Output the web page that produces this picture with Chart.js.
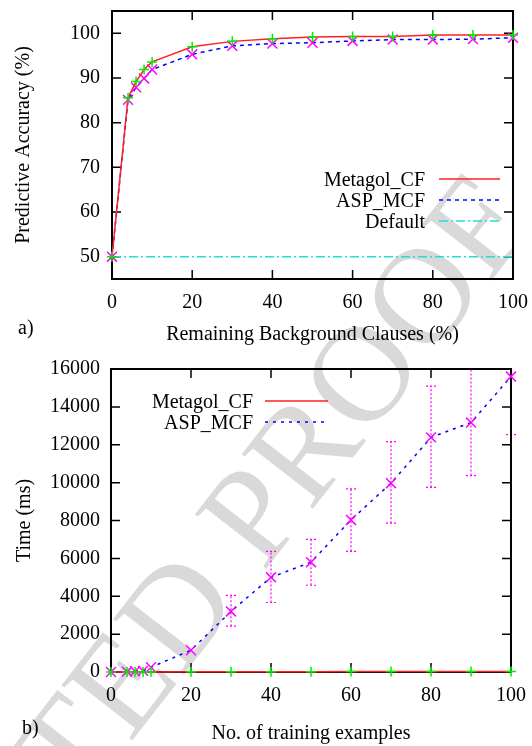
<!DOCTYPE html>
<html>
<head>
<meta charset="utf-8">
<script src="https://cdn.jsdelivr.net/npm/chart.js@4.4.0/dist/chart.umd.min.js"></script>
<style>
  html, body { margin: 0; padding: 0; background: #fff; }
  #page { position: relative; width: 532px; height: 746px; overflow: hidden; font-family: "Liberation Serif", serif; }
  #mark { position: absolute; left: -471px; top: 1327px; font-size: 137px; line-height: 1; color: #d9d9d9;
          white-space: nowrap; transform: rotate(-52deg); transform-origin: 0 0; }
  canvas { position: absolute; left: 0; }
  #accuracy { top: 0; }
  #timing { top: 345px; }
  .tag { position: absolute; font-size: 20px; line-height: 20px; color: #000; }
</style>
</head>
<body>
<div id="page">
  <div id="mark">UNCORRECTED PROOF</div>
  <canvas id="accuracy" width="532" height="360"></canvas>
  <canvas id="timing" width="532" height="401"></canvas>
  <div class="tag" style="left:18px; top:317px;">a)</div>
  <div class="tag" style="left:22px; top:717px;">b)</div>
</div>
<script>
// a) predictive accuracy vs remaining background clauses
const clauses = [0, 4, 6, 8, 10, 20, 30, 40, 50, 60, 70, 80, 90, 100];
const accMetagol = [50, 85.6, 89.2, 91.9, 93.6, 97.0, 98.2, 98.8, 99.2, 99.3, 99.3, 99.6, 99.6, 99.6];
const accAsp = [50, 85.1, 87.9, 89.9, 91.9, 95.3, 97.2, 97.7, 97.9, 98.3, 98.6, 98.6, 98.7, 99.0];
const defaultX = [0, 100];
const accDefault = [50, 50];
const xTicksA = [0, 20, 40, 60, 80, 100];
const yTicksA = [50, 60, 70, 80, 90, 100];

// b) running time vs number of training examples
const examples = [0, 4, 6, 8, 10, 20, 30, 40, 50, 60, 70, 80, 90, 100];
const timeMetagol = [0, 5, 5, 5, 5, 10, 10, 15, 15, 20, 20, 25, 25, 30];
const timeAsp = [0, 20, 40, 60, 250, 1150, 3200, 5000, 5800, 8030, 9970, 12390, 13170, 15600];
const timeAspLow = [0, 20, 40, 60, 250, 1150, 2420, 3670, 4580, 6370, 7860, 9750, 10370, 12530];
const timeAspHigh = [0, 20, 40, 60, 250, 1150, 4050, 6370, 7000, 9670, 12160, 15100, 16200, 18700];
const xTicksB = [0, 20, 40, 60, 80, 100];
const yTicksB = [0, 2000, 4000, 6000, 8000, 10000, 12000, 14000, 16000];

Chart.defaults.color = "#000";
Chart.defaults.font.family = '"Liberation Serif", serif';
Chart.defaults.font.size = 20;

const font = { family: '"Liberation Serif", serif', size: 20 };
const pts = (xs, ys) => xs.map((x, i) => ({ x: x, y: ys[i] }));

// box round the plot with gnuplot style inward ticks on all four sides
const frame = {
  id: "frame",
  beforeDatasetsDraw(chart) {
    const { ctx, chartArea: a, scales: { x, y } } = chart;
    ctx.save();
    ctx.strokeStyle = "#000";
    ctx.lineWidth = 1.5;
    ctx.beginPath();
    x.ticks.forEach((t) => {
      const px = x.getPixelForValue(t.value);
      ctx.moveTo(px, a.bottom); ctx.lineTo(px, a.bottom - 9);
      ctx.moveTo(px, a.top); ctx.lineTo(px, a.top + 9);
    });
    y.ticks.forEach((t) => {
      const py = y.getPixelForValue(t.value);
      ctx.moveTo(a.left, py); ctx.lineTo(a.left + 9, py);
      ctx.moveTo(a.right, py); ctx.lineTo(a.right - 9, py);
    });
    ctx.stroke();
    ctx.lineWidth = 2;
    ctx.strokeRect(a.left, a.top, a.right - a.left, a.bottom - a.top);
    ctx.restore();
  },
};

// key: text right aligned, line sample on its right
function keyPlugin(textRight, x1, x2, y0, gap) {
  return {
    id: "key",
    afterDraw(chart) {
      const ctx = chart.ctx;
      ctx.save();
      ctx.font = '20px "Liberation Serif", serif';
      ctx.textAlign = "right";
      ctx.textBaseline = "middle";
      chart.data.datasets.forEach((ds, i) => {
        const y = y0 + i * gap;
        ctx.fillStyle = "#000";
        ctx.fillText(ds.label, textRight, y);
        ctx.strokeStyle = ds.borderColor;
        ctx.lineWidth = ds.borderWidth;
        ctx.setLineDash(ds.borderDash || []);
        ctx.beginPath();
        ctx.moveTo(x1, y - 2);
        ctx.lineTo(x2, y - 2);
        ctx.stroke();
      });
      ctx.restore();
    },
  };
}

function axes(xTicks, yTicks, yMin, yMax, xTitle, yTitle, xHeight, yWidth, xTitlePad, yTitlePad, xPad, yPad) {
  return {
    x: {
      type: "linear", min: 0, max: 100,
      afterBuildTicks: (s) => { s.ticks = xTicks.map((v) => ({ value: v })); },
      afterFit: (s) => { s.height = xHeight; s.paddingLeft = 0; s.paddingRight = 0; },
      grid: { display: false, drawTicks: false },
      border: { display: false },
      ticks: { font: font, padding: xPad, maxRotation: 0, callback: (v) => String(v) },
      title: { display: true, text: xTitle, font: font, padding: { top: 0, bottom: xTitlePad } },
    },
    y: {
      type: "linear", min: yMin, max: yMax,
      afterBuildTicks: (s) => { s.ticks = yTicks.map((v) => ({ value: v })); },
      afterFit: (s) => { s.width = yWidth; s.paddingTop = 0; s.paddingBottom = 0; },
      grid: { display: false, drawTicks: false },
      border: { display: false },
      ticks: { font: font, padding: yPad, callback: (v) => String(v) },
      title: { display: true, text: yTitle, font: font, padding: { top: yTitlePad, bottom: 0 } },
    },
  };
}

new Chart("accuracy", {
  type: "line",
  data: {
    datasets: [
      {
        label: "Metagol_CF",
        data: pts(clauses, accMetagol),
        borderColor: "#ff2020",
        borderWidth: 1.5,
        pointStyle: "cross",
        pointRadius: 5,
        pointBorderColor: "#00ee00",
        pointBorderWidth: 1.5,
        clip: false,
      },
      {
        label: "ASP_MCF",
        data: pts(clauses, accAsp),
        borderColor: "#0000ff",
        borderWidth: 1.5,
        borderDash: [4, 4],
        pointStyle: "crossRot",
        pointRadius: 7,
        pointBorderColor: "#ff00ff",
        pointBorderWidth: 1.5,
        clip: false,
      },
      {
        label: "Default",
        data: pts(defaultX, accDefault),
        borderColor: "#22dddd",
        borderWidth: 1.5,
        borderDash: [9, 3, 2, 3],
        pointRadius: 0,
        clip: false,
      },
    ],
  },
  options: {
    responsive: false,
    animation: false,
    layout: { autoPadding: false, padding: { top: 11, right: 19, left: 0, bottom: 0 } },
    plugins: { legend: { display: false }, tooltip: { enabled: false } },
    scales: axes(xTicksA, yTicksA, 45, 105, "Remaining Background Clauses (%)", "Predictive Accuracy (%)", 81, 112, 13, 12, 12, 12),
  },
  plugins: [frame, keyPlugin(425, 439, 500, 181, 21)],
});

const errorBars = {
  id: "errorBars",
  beforeDatasetsDraw(chart) {
    const { ctx, chartArea: a, scales: { x, y } } = chart;
    ctx.save();
    ctx.beginPath();
    ctx.rect(a.left - 10, a.top, a.right - a.left + 20, a.bottom - a.top);
    ctx.clip();
    ctx.strokeStyle = "#ff00ff";
    ctx.lineWidth = 1.2;
    ctx.setLineDash([2, 2]);
    examples.forEach((xv, i) => {
      const px = x.getPixelForValue(xv);
      const lo = y.getPixelForValue(timeAspLow[i]);
      const hi = y.getPixelForValue(timeAspHigh[i]);
      if (Math.abs(lo - hi) < 4) return;
      ctx.beginPath();
      ctx.moveTo(px, lo); ctx.lineTo(px, hi);
      ctx.moveTo(px - 5, lo); ctx.lineTo(px + 5, lo);
      ctx.moveTo(px - 5, hi); ctx.lineTo(px + 5, hi);
      ctx.stroke();
    });
    ctx.restore();
  },
};

new Chart("timing", {
  type: "line",
  data: {
    datasets: [
      {
        label: "Metagol_CF",
        data: pts(examples, timeMetagol),
        borderColor: "#ff2020",
        borderWidth: 1.5,
        pointStyle: "cross",
        pointRadius: 5,
        pointBorderColor: "#00ee00",
        pointBorderWidth: 1.5,
        clip: false,
      },
      {
        label: "ASP_MCF",
        data: pts(examples, timeAsp),
        borderColor: "#0000ff",
        borderWidth: 1.5,
        borderDash: [3, 5],
        pointStyle: "crossRot",
        pointRadius: 7,
        pointBorderColor: "#ff00ff",
        pointBorderWidth: 1.5,
        clip: false,
      },
    ],
  },
  options: {
    responsive: false,
    animation: false,
    layout: { autoPadding: false, padding: { top: 24, right: 21, left: 0, bottom: 0 } },
    plugins: { legend: { display: false }, tooltip: { enabled: false } },
    scales: axes(xTicksB, yTicksB, 0, 16000, "No. of training examples", "Time (ms)", 74, 111, 0, 13, 12, 11),
  },
  plugins: [errorBars, frame, keyPlugin(253, 265, 328, 58, 21)],
});
</script>
</body>
</html>
